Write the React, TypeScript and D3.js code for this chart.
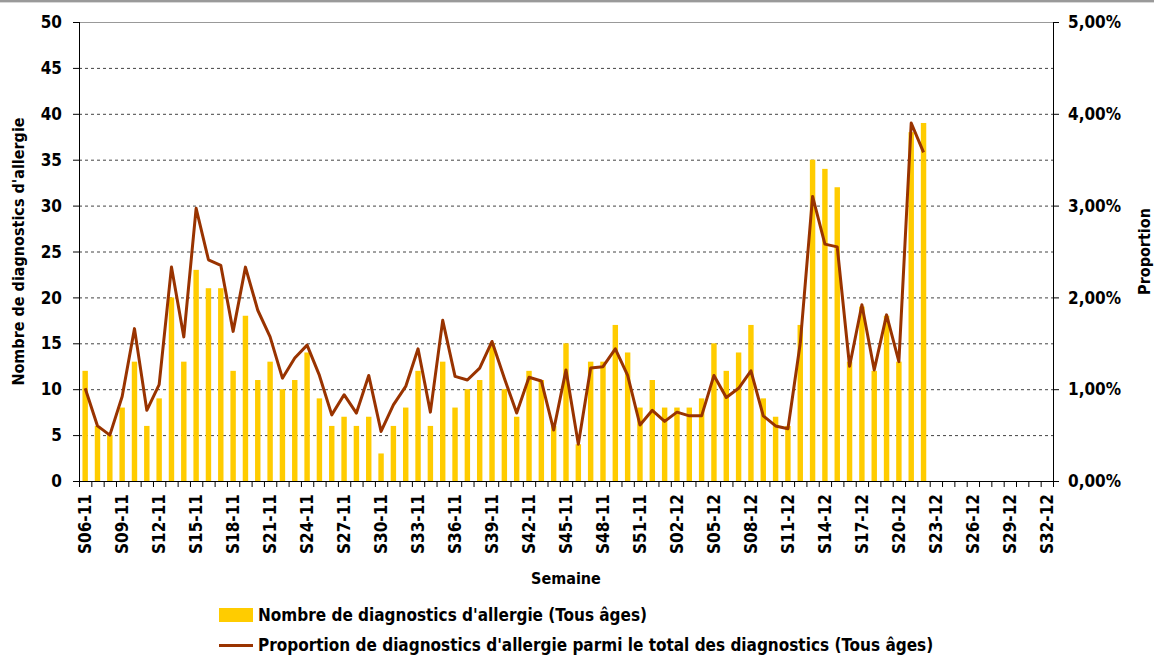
import React from "react";
import * as d3 from "d3";

// weeks S06-11 .. S52-11 then S01-12 .. S32-12
const weeks2011 = d3.range(6, 53).map((w) => `S${String(w).padStart(2, "0")}-11`);
const weeks2012 = d3.range(1, 33).map((w) => `S${String(w).padStart(2, "0")}-12`);
const categories = [...weeks2011, ...weeks2012];

// Nombre de diagnostics d'allergie (Tous âges)
const counts2011 = [
  12, 6, 5, 8, 13, 6, 9, 20, 13, 23, 21, 21, 12, 18, 11, 13, 10, 11, 14, 9, 6, 7, 6, 7,
  3, 6, 8, 12, 6, 13, 8, 10, 11, 15, 10, 7, 12, 11, 6, 15, 4, 13, 13, 17, 14, 8, 11,
];
const counts2012 = [8, 8, 8, 9, 15, 12, 14, 17, 9, 7, 6, 17, 35, 34, 32, 13, 19, 12, 18, 13, 38, 39];

// Proportion parmi le total des diagnostics (%)
const prop2011 = [
  1.01, 0.6, 0.5, 0.92, 1.66, 0.77, 1.05, 2.33, 1.57, 2.97, 2.41, 2.35, 1.63, 2.33, 1.86, 1.57,
  1.12, 1.34, 1.48, 1.15, 0.72, 0.94, 0.74, 1.15, 0.54, 0.83, 1.03, 1.44, 0.75, 1.75, 1.14, 1.1,
  1.23, 1.52, 1.12, 0.74, 1.13, 1.09, 0.555, 1.21, 0.4, 1.23, 1.245, 1.44, 1.15, 0.61, 0.77,
];
const prop2012 = [
  0.65, 0.75, 0.71, 0.71, 1.15, 0.91, 1.01, 1.2, 0.71, 0.6, 0.57, 1.5, 3.1, 2.58, 2.55, 1.25,
  1.92, 1.21, 1.81, 1.3, 3.9, 3.58,
];

const leftTicks = [0, 5, 10, 15, 20, 25, 30, 35, 40, 45, 50];
const rightTicks = [0, 1, 2, 3, 4, 5];

const counts = [...counts2011, ...counts2012];
const props = [...prop2011, ...prop2012];

const W = 1154;
const H = 656;
const margin = { left: 79, right: 101, top: 22, bottom: 175 };
const FONT = "'DejaVu Sans Condensed', 'DejaVu Sans', sans-serif";
const BAR = "#FFCC00";
const LINE = "#993300";

const App = () => {
  const x0 = margin.left;
  const x1 = W - margin.right;
  const y0 = H - margin.bottom;
  const y1 = margin.top;

  const x = d3.scaleBand().domain(categories).range([x0, x1]).paddingInner(0.56).paddingOuter(0.28);
  const step = x.step();
  const cx = (c) => x(c) + x.bandwidth() / 2;
  const yL = d3.scaleLinear().domain([0, 50]).range([y0, y1]);
  const yR = d3.scaleLinear().domain([0, 5]).range([y0, y1]);

  const line = d3
    .line()
    .x((d) => cx(categories[d[0]]))
    .y((d) => yR(d[1]));

  const fmtPct = (v) => d3.format(".2f")(v).replace(".", ",") + "%";

  return (
    <svg width={W} height={H} style={{ position: "absolute", left: 0, top: 0, background: "#fff" }} fontFamily={FONT} fontWeight="bold">
      {/* frame line on top */}
      <rect x={0} y={0} width={W} height={2} fill="#9a9a9a" />
      <rect x={0} y={2} width={W} height={1} fill="#d8d8d8" />

      {/* grid */}
      {leftTicks.slice(1, -1).map((t) => (
        <line key={t} x1={x0} x2={x1} y1={yL(t) + 0.5} y2={yL(t) + 0.5} stroke="#444" strokeDasharray="3,3" />
      ))}
      <line x1={x0} x2={x1} y1={y1 + 0.5} y2={y1 + 0.5} stroke="#999" />

      {/* bars */}
      {counts.map((v, i) => (
        <rect key={i} x={x(categories[i])} y={yL(v)} width={x.bandwidth()} height={y0 - yL(v)} fill={BAR} />
      ))}

      {/* line */}
      <path d={line(props.map((p, i) => [i, p]))} fill="none" stroke={LINE} strokeWidth={3} strokeLinejoin="round" />

      {/* axes */}
      <line x1={x0 + 0.5} x2={x0 + 0.5} y1={y1} y2={y0} stroke="#000" />
      <line x1={x1 + 0.5} x2={x1 + 0.5} y1={y1} y2={y0} stroke="#000" />
      <line x1={x0} x2={x1} y1={y0 + 0.5} y2={y0 + 0.5} stroke="#000" />

      {leftTicks.map((t) => (
        <g key={t}>
          <line x1={x0 - 6} x2={x0} y1={yL(t) + 0.5} y2={yL(t) + 0.5} stroke="#000" />
          <text x={62} y={yL(t)} dy="0.36em" textAnchor="end" fontSize={17}>
            {t}
          </text>
        </g>
      ))}
      {rightTicks.map((t) => (
        <g key={t}>
          <line x1={x1} x2={x1 + 6} y1={yR(t) + 0.5} y2={yR(t) + 0.5} stroke="#000" />
          <text x={1068} y={yR(t)} dy="0.36em" textAnchor="start" fontSize={17}>
            {fmtPct(t)}
          </text>
        </g>
      ))}

      {categories.map((c, i) => (
        <line key={c} x1={x0 + i * step + step + 0.5} x2={x0 + i * step + step + 0.5} y1={y0} y2={y0 + 6} stroke="#000" />
      ))}
      <line x1={x0 + 0.5} x2={x0 + 0.5} y1={y0} y2={y0 + 6} stroke="#000" />

      {categories.map((c, i) =>
        i % 3 === 0 ? (
          <text key={c} transform={`translate(${cx(c)},${y0 + 13}) rotate(-90)`} dy="0.36em" textAnchor="end" fontSize={17}>
            {c}
          </text>
        ) : null
      )}

      {/* axis titles */}
      <text transform={`translate(24,${(y0 + y1) / 2}) rotate(-90)`} textAnchor="middle" fontSize={16}>
        Nombre de diagnostics d'allergie
      </text>
      <text transform={`translate(1150,${(y0 + y1) / 2}) rotate(-90)`} textAnchor="middle" fontSize={16}>
        Proportion
      </text>
      <text x={566} y={584} textAnchor="middle" fontSize={16}>
        Semaine
      </text>

      {/* legend */}
      <rect x={219} y={608} width={34} height={14} fill={BAR} />
      <text x={258} y={621} fontSize={17}>
        Nombre de diagnostics d'allergie (Tous âges)
      </text>
      <line x1={219} x2={253} y1={645.5} y2={645.5} stroke={LINE} strokeWidth={3} />
      <text x={258} y={651} fontSize={17}>
        Proportion de diagnostics d'allergie parmi le total des diagnostics (Tous âges)
      </text>
    </svg>
  );
};

export default App;
